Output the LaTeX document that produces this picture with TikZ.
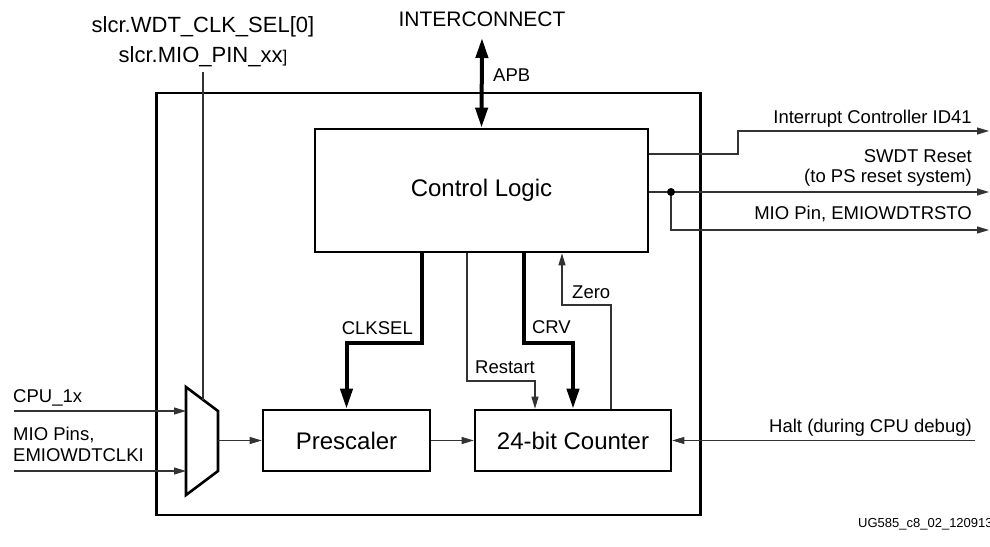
\documentclass[tikz,border=0pt]{standalone}
\usepackage{fontspec}
\setmainfont{Liberation Sans}
\usetikzlibrary{arrows.meta}

\begin{document}
\begin{tikzpicture}[x=1pt, y=-1pt,
    blk/.style={draw, line width=2.6pt, inner sep=0pt, font=\fontsize{24}{28}\selectfont},
    sig/.style={line width=1.1pt, draw=black!80, -{Triangle[length=12pt, width=7pt]}},
    bus/.style={line width=4pt, -{Triangle[length=20pt, width=12pt]}},
    lbl/.style={inner sep=0pt, font=\fontsize{18.5}{22}\selectfont}]
    \useasboundingbox (0,0) rectangle (990,546);

    % Blocks
    \node[blk, minimum width=544pt, minimum height=422pt] (wdt) at (428.5,304) {};
    \node[blk, minimum width=333pt, minimum height=123pt] (ctrl) at (481.5,190.5) {Control Logic};
    \node[blk, minimum width=167pt, minimum height=61pt] (pre) at (346.5,440.5) {Prescaler};
    \node[blk, minimum width=196pt, minimum height=61pt] (cnt) at (573,440.5) {24-bit Counter};

    % Mux
    \draw[line width=2.6pt, line join=miter] (186,387) -- (218,411) -- (218,471) -- (186,495) -- cycle;
    \coordinate (mux1) at (186,411);
    \coordinate (mux2) at (186,471);
    \coordinate (muxo) at (218,440.5);
    \coordinate (muxs) at (203,399.75);

    % Free ends
    \coordinate (cpuin) at (14,411);
    \coordinate (mioin) at (14,471);
    \coordinate (selin) at (203,72);
    \coordinate (ic) at (482,38);
    \coordinate (haltin) at (975,440.5);
    \coordinate (irq) at (989,131);
    \coordinate (rsto) at (989,192);
    \coordinate (mioo) at (989,230);

    % Bends
    \coordinate (irqa) at (738,154);
    \coordinate (dot) at (671,192);
    \coordinate (ck) at (422,343);
    \coordinate (rs1) at (467,381);
    \coordinate (rs2) at (535,381);
    \coordinate (cr) at (524,343);
    \coordinate (z1) at (611,305);
    \coordinate (z2) at (562,305);

    % Clock path
    \draw[sig] (cpuin) -- (mux1);
    \draw[sig] (mioin) -- (mux2);
    \draw[line width=1.1pt, draw=black!80] (selin) -- (muxs);
    \draw[sig] (muxo) -- (muxo -| pre.west);
    \draw[sig] (pre.east) -- (cnt.west);
    \draw[sig] (haltin) -- (cnt.east);

    % Control paths
    \draw[line width=4pt, {Triangle[length=20pt, width=12pt]}-{Triangle[length=20pt, width=12pt]}] (ic) -- (ctrl.north);
    \draw[bus] (ctrl.south -| ck) -- (ck) -| (pre.north);
    \draw[bus] (ctrl.south -| cr) -- (cr) -| (cnt.north);
    \draw[sig] (ctrl.south -| rs1) -- (rs1) -- (rs2) -- (rs2 |- cnt.north);
    \draw[sig] (cnt.north -| z1) -- (z1) -- (z2) -- (z2 |- ctrl.south);

    % Outputs
    \draw[sig] (ctrl.east |- irqa) -- (irqa) |- (irq);
    \draw[sig] (ctrl.east |- dot) -- (rsto);
    \draw[sig] (dot) |- (mioo);
    \fill (dot) circle (4pt);

    % Labels
    \node[inner sep=0pt, font=\fontsize{22}{26}\selectfont, anchor=base] (sel1) at (203,32) {slcr.WDT\_CLK\_SEL[0]};
    \node[inner sep=0pt, font=\fontsize{22}{26}\selectfont, anchor=base] (sel2) at (203,62) {slcr.MIO\_PIN\_xx{\fontsize{17}{20}\selectfont]}};
    \node[inner sep=0pt, font=\fontsize{21}{25}\selectfont, anchor=base] (icl) at (482,27) {INTERCONNECT};
    \node[lbl, anchor=base west] (apb) at (493,81) {APB};
    \node[lbl, anchor=base west] (lcpu) at (13,402) {CPU\_1x};
    \node[lbl, anchor=base west] (lmio1) at (13,440) {MIO Pins,};
    \node[lbl, anchor=base west] (lmio2) at (13,461) {EMIOWDTCLKI};
    \node[lbl, anchor=base east] (lirq) at (972,123) {Interrupt Controller ID41};
    \node[lbl, anchor=base east] (lrst1) at (972,162) {SWDT Reset};
    \node[lbl, anchor=base east] (lrst2) at (972,182) {(to PS reset system)};
    \node[lbl, anchor=base east] (lmioo) at (972,219) {MIO Pin, EMIOWDTRSTO};
    \node[lbl, anchor=base east] (lhalt) at (972,432) {Halt (during CPU debug)};
    \node[lbl, anchor=base east] (lck) at (413,334) {CLKSEL};
    \node[lbl, anchor=base east] (lcrv) at (571,333) {CRV};
    \node[lbl, anchor=base east] (lrs) at (535,373) {Restart};
    \node[lbl, anchor=base west] (lz) at (572,298) {Zero};
    \node[inner sep=0pt, font=\fontsize{13}{15}\selectfont, anchor=base west] (fig) at (858,527) {UG585\_c8\_02\_120913};
\end{tikzpicture}
\end{document}
